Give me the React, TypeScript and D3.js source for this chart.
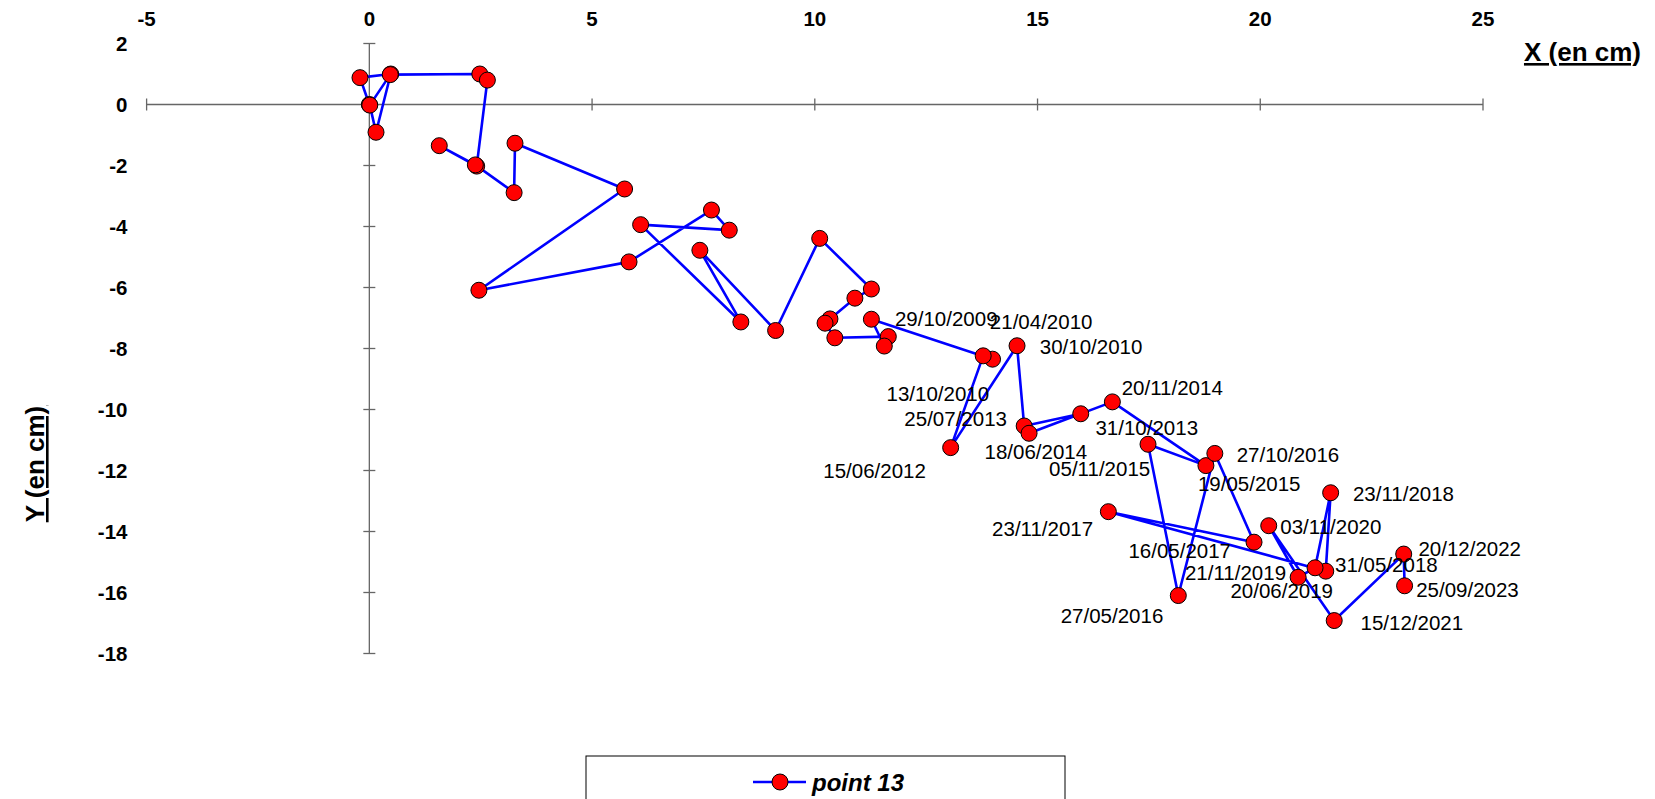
import React from "react";
import * as d3 from "d3";

const xs = [0, -0.21, 0.48, 0.15, 0.01, 0.47, 2.48, 2.65, 2.41, 1.57, 2.38, 3.25, 3.27, 5.73, 2.46, 5.83, 7.68, 8.08, 6.09, 8.34, 7.42, 9.12, 10.11, 11.27, 10.9, 10.34, 10.23, 10.45, 11.65, 11.56, 11.27, 13.99, 13.78, 13.05, 14.54, 14.7, 15.97, 14.81, 16.68, 18.78, 17.48, 18.16, 18.98, 19.86, 16.59, 21.47, 21.58, 21.23, 20.85, 20.19, 21.66, 23.22, 23.24];
const ys = [0, 0.88, 1.0, -0.91, -0.02, 0.98, 1.0, 0.8, -2.02, -1.35, -1.98, -2.89, -1.27, -2.77, -6.09, -5.16, -3.46, -4.12, -3.94, -7.13, -4.78, -7.41, -4.39, -6.05, -6.35, -7.03, -7.17, -7.65, -7.61, -7.92, -7.04, -8.35, -8.24, -11.25, -7.91, -10.54, -10.14, -10.78, -9.75, -11.84, -11.14, -16.1, -11.44, -14.35, -13.35, -15.3, -12.73, -15.19, -15.5, -13.81, -16.92, -14.74, -15.78];

const labelTexts = ["29/10/2009", "21/04/2010", "30/10/2010", "13/10/2010", "25/07/2013", "15/06/2012", "20/11/2014", "31/10/2013", "18/06/2014", "05/11/2015", "27/10/2016", "19/05/2015", "23/11/2018", "23/11/2017", "03/11/2020", "16/05/2017", "20/12/2022", "31/05/2018", "21/11/2019", "20/06/2019", "25/09/2023", "27/05/2016", "15/12/2021"];
const labelX = [11.8, 13.93, 15.05, 11.61, 12.01, 10.19, 16.89, 16.3, 13.81, 15.26, 19.47, 18.6, 22.08, 13.98, 20.45, 17.04, 23.55, 21.68, 18.31, 19.33, 23.5, 15.52, 22.25];
const labelY = [-7.03, -7.13, -7.92, -9.48, -10.28, -12.01, -9.28, -10.59, -11.39, -11.94, -11.49, -12.42, -12.77, -13.91, -13.84, -14.61, -14.57, -15.09, -15.36, -15.95, -15.89, -16.75, -16.99];

const xTicks = [-5, 0, 5, 10, 15, 20, 25];
const yTicks = [2, 0, -2, -4, -6, -8, -10, -12, -14, -16, -18];
const seriesName = "point 13";
const xTitle = "X (en cm)";
const yTitle = "Y (en cm)";

export default function App() {
  const W = 1655, H = 799;
  const x = d3.scaleLinear().domain([-5, 25]).range([146.6, 1483]);
  const y = d3.scaleLinear().domain([2, -18]).range([43.5, 653.5]);
  const pts = xs.map((v, i) => [v, ys[i]] as [number, number]);
  const line = d3.line<[number, number]>().x(d => x(d[0])).y(d => y(d[1]));
  const font = "'Liberation Sans', Arial, sans-serif";
  const axisColor = "#666666";
  return (
    <svg width={W} height={H} style={{ position: "absolute", left: 0, top: 0, background: "#fff" }} fontFamily={font}>
      <rect x={0} y={0} width={W} height={H} fill="#fff" />
      {/* x axis */}
      <line x1={x(-5)} x2={x(25)} y1={y(0)} y2={y(0)} stroke={axisColor} strokeWidth={1.3} />
      {xTicks.map(t => (
        <line key={"xt" + t} x1={x(t)} x2={x(t)} y1={y(0) - 6} y2={y(0) + 6} stroke={axisColor} strokeWidth={1.3} />
      ))}
      {xTicks.map(t => (
        <text key={"xl" + t} x={x(t)} y={18} textAnchor="middle" dominantBaseline="central" fontWeight="bold" fontSize={20.5}>{t}</text>
      ))}
      {/* y axis */}
      <line x1={x(0)} x2={x(0)} y1={y(2)} y2={y(-18)} stroke={axisColor} strokeWidth={1.3} />
      {yTicks.map(t => (
        <line key={"yt" + t} x1={x(0) - 6} x2={x(0) + 6} y1={y(t)} y2={y(t)} stroke={axisColor} strokeWidth={1.3} />
      ))}
      {yTicks.map(t => (
        <text key={"yl" + t} x={127.5} y={y(t)} textAnchor="end" dominantBaseline="central" fontWeight="bold" fontSize={20.5}>{t}</text>
      ))}
      {/* titles */}
      <text x={1641} y={61} textAnchor="end" fontWeight="bold" fontSize={26} textDecoration="underline">{xTitle}</text>
      <text transform={`translate(44,464) rotate(-90)`} textAnchor="middle" fontWeight="bold" fontSize={26} textDecoration="underline">{yTitle}</text>
      {/* series */}
      <path d={line(pts) || ""} fill="none" stroke="#0000ff" strokeWidth={2.6} strokeLinejoin="round" />
      {pts.map((p, i) => (
        <circle key={"p" + i} cx={x(p[0])} cy={y(p[1])} r={8} fill="#ff0000" stroke="#000" strokeWidth={1} />
      ))}
      {labelTexts.map((t, i) => (
        <text key={"lb" + i} x={x(labelX[i])} y={y(labelY[i])} dominantBaseline="central" fontSize={20.5} fill="#000">{t}</text>
      ))}
      {/* legend */}
      <rect x={586} y={756} width={479} height={70} fill="#fff" stroke="#000" strokeWidth={1} />
      <line x1={753} x2={806} y1={782} y2={782} stroke="#0000ff" strokeWidth={2.6} />
      <circle cx={780} cy={782} r={8} fill="#ff0000" stroke="#000" strokeWidth={1} />
      <text x={812} y={782} dominantBaseline="central" fontWeight="bold" fontStyle="italic" fontSize={24}>{seriesName}</text>
    </svg>
  );
}
